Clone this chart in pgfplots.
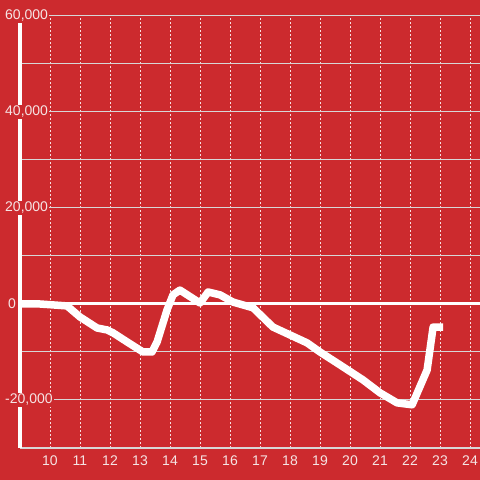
\documentclass[border=0pt]{standalone}
\usepackage{pgfplots}
\pgfplotsset{compat=1.18}
\usepackage{fontspec}
\setmainfont{Liberation Sans}
\usetikzlibrary{backgrounds,calc}
\definecolor{bg}{RGB}{204,42,46}
\definecolor{txt}{RGB}{245,228,228}
\definecolor{gridc}{RGB}{215,215,215}
\begin{document}
\begin{tikzpicture}
\begin{axis}[
 scale only axis, width=460bp, height=432bp,
 xmin=9, xmax=24.333, ymin=-30000, ymax=60000,
 axis x line*=bottom, axis y line*=left,
 x axis line style={gridc, line width=1.5bp, -},
 y axis line style={white, line width=3bp, -},
 xtick={10,...,24},
 ytick={-20000,20000,40000,60000},
 minor ytick={-10000,10000,30000,50000},
 extra y ticks={0},
 extra y tick style={grid style={white, line width=3bp, solid}, yticklabel style={xshift=3bp}},
 ymajorgrids, yminorgrids, xmajorgrids,
 major tick length=0pt, minor tick length=0pt,
 grid style={gridc, line width=1bp, solid},
 x grid style={white!85!bg, line width=1bp, dash pattern=on 2bp off 2bp},
 scaled y ticks=false,
 /pgf/number format/1000 sep={,},
 /pgf/number format/assume math mode=true,
 ticklabel style={font=\fontsize{14bp}{16bp}\selectfont, text=txt},
 yticklabel style={anchor=west, xshift=-16bp, fill=bg, inner sep=1bp},
 xticklabel style={yshift=-4bp},
]
\addplot[white, line width=7.5bp, line join=round] coordinates {
(9,0) (9.67,0) (10.57,-400) (11,-2700) (11.57,-5000) (11.9,-5400) (12.1,-6000)
(12.57,-7900) (13.1,-10000) (13.4,-10000) (13.57,-7900) (13.9,-1250) (14.1,1900)
(14.33,2900) (15,200) (15.27,2500) (15.67,1900) (16.1,400) (16.77,-800)
(17.43,-4800) (18.57,-8100) (19,-10000) (19.67,-12700) (20.43,-15800) (21,-18500)
(21.57,-20600) (22.07,-21000) (22.57,-13750) (22.77,-4800) (23.1,-4800)
};
\end{axis}
\pgfresetboundingbox
\path[use as bounding box] ($(current axis.south west)+(-20bp,-32bp)$) rectangle ($(current axis.north east)+(0,16bp)$);
\begin{pgfonlayer}{background}
\fill[bg] ($(current axis.south west)+(-20bp,-32bp)$) rectangle ($(current axis.north east)+(0,16bp)$);
\end{pgfonlayer}
\end{tikzpicture}
\end{document}
